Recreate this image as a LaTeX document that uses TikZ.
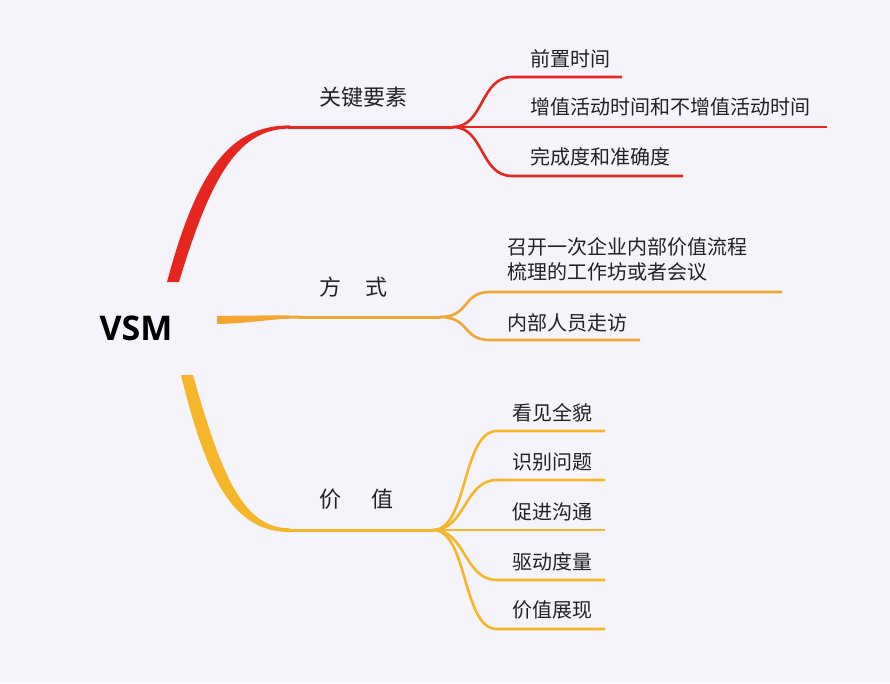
\documentclass[tikz,border=0pt]{standalone}
\usepackage{fontspec}
\setmainfont{Noto Sans CJK SC}
\newfontfamily\vsmfont{Open Sans}
\definecolor{bg}{HTML}{F5F4FA}
\definecolor{cred}{HTML}{E6271F}
\definecolor{corange}{HTML}{F4A634}
\definecolor{cyellow}{HTML}{F7B62A}
\definecolor{txt}{HTML}{222222}
\begin{document}
\begin{tikzpicture}[x=1pt,y=-1pt,
  leaf/.style={anchor=west, inner sep=0pt, text=txt, font=\fontsize{20}{25}\selectfont},
  topic/.style={anchor=west, inner sep=0pt, text=txt, font=\fontsize{22}{26}\selectfont},
  br/.style={line width=3pt},
  sub/.style={line width=2.6pt}]
\fill[bg] (0,0) rectangle (890,683);
\useasboundingbox (0,0) rectangle (890,683);

% central
\node[inner sep=0pt, text=black, font=\vsmfont\bfseries\fontsize{34}{40}\selectfont] (vsm) at (136,328) {VSM};

% ---------- red branch
\coordinate (rA) at (173,282);
\coordinate (rB) at (288,127);
\coordinate (rF) at (453,127);
\fill[cred] (167,282) .. controls (198,166) and (232,125.4) .. (290,125.4)
   -- (290,128.6) .. controls (240,128.6) and (212,172) .. (179,282) -- cycle;
\draw[br,cred] (rB) -- (rF);
\node[topic] (k) at (319,97) {关键要素};
\coordinate (k1s) at (512,77);  \coordinate (k1e) at (622,77);
\coordinate (k2e) at (827,127);
\coordinate (k3s) at (512,176); \coordinate (k3e) at (683,176);
\draw[sub,cred] (rF) .. controls (484,127) and (480,77) .. (k1s) -- (k1e);
\draw[sub,cred] (rF) -- (k2e);
\draw[sub,cred] (rF) .. controls (484,127) and (480,176) .. (k3s) -- (k3e);
\node[leaf] (k1) at (530,58.5) {前置时间};
\node[leaf] (k2) at (530,107) {增值活动时间和不增值活动时间};
\node[leaf] (k3) at (530,157) {完成度和准确度};

% ---------- orange branch
\coordinate (oA) at (217,320);
\coordinate (oB) at (298,317);
\coordinate (oF) at (440,317);
\fill[corange] (217,316) .. controls (250,315.3) and (270,315.5) .. (300,315.5)
   -- (300,318.5) .. controls (270,318.5) and (250,323.5) .. (217,324) -- cycle;
\draw[br,corange] (oB) -- (oF);
\node[topic] (m) at (319,287) {方\hspace{24pt}式};
\coordinate (m1s) at (490,292); \coordinate (m1e) at (782,292);
\coordinate (m2s) at (490,340); \coordinate (m2e) at (640,340);
\draw[sub,corange] (oF) .. controls (470,317) and (462,292) .. (m1s) -- (m1e);
\draw[sub,corange] (oF) .. controls (470,317) and (462,340) .. (m2s) -- (m2e);
\node[leaf, align=left] (m1) at (507,259) {召开一次企业内部价值流程\\梳理的工作坊或者会议};
\node[leaf] (m2) at (507,323) {内部人员走访};

% ---------- yellow branch
\coordinate (yA) at (187,375);
\coordinate (yB) at (288,530);
\coordinate (yF) at (433,530);
\fill[cyellow] (181,375) .. controls (208,486) and (236,532) .. (290,532)
   -- (290,528.3) .. controls (244,528.3) and (222,478) .. (193,375) -- cycle;
\draw[br,cyellow] (yB) -- (yF);
\node[topic] (v) at (319,499) {价\hspace{30pt}值};
\foreach \i/\y in {1/431,2/480,3/530,4/580,5/629}{
  \coordinate (v\i s) at (497,\y);
  \coordinate (v\i e) at (605,\y);
}
\draw[sub,cyellow] (yF) .. controls (468,530) and (462,431) .. (v1s) -- (v1e);
\draw[sub,cyellow] (yF) .. controls (466,530) and (464,480) .. (v2s) -- (v2e);
\draw[sub,cyellow] (yF) -- (v3e);
\draw[sub,cyellow] (yF) .. controls (466,530) and (464,580) .. (v4s) -- (v4e);
\draw[sub,cyellow] (yF) .. controls (468,530) and (462,629) .. (v5s) -- (v5e);
\node[leaf] (v1) at (512,413) {看见全貌};
\node[leaf] (v2) at (512,462) {识别问题};
\node[leaf] (v3) at (512,512) {促进沟通};
\node[leaf] (v4) at (512,562) {驱动度量};
\node[leaf] (v5) at (512,610) {价值展现};
\end{tikzpicture}
\end{document}
